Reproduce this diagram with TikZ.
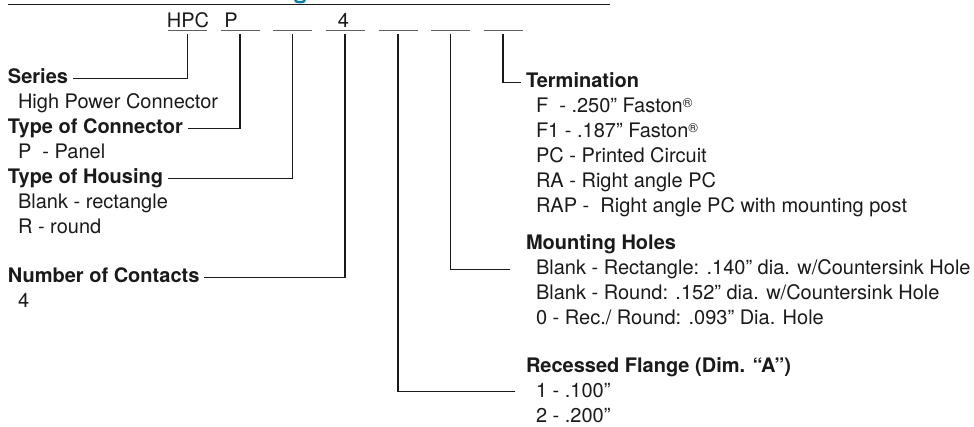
\documentclass[tikz,border=0pt]{standalone}
\usepackage{fontspec}
\setmainfont{TeX Gyre Heros}
\usetikzlibrary{calc}
\definecolor{ink}{HTML}{1A1A1A}
\definecolor{titleteal}{HTML}{0E7FA6}
\newcommand{\regm}{{\fontsize{13}{13}\selectfont\raisebox{5pt}{®}}}
\begin{document}
\begin{tikzpicture}[x=1pt,y=-1pt,
  every node/.style={inner sep=0pt, outer sep=0pt, text=ink, anchor=base west,
    text height=14.5pt, text depth=4pt, font=\fontsize{20}{24}\selectfont},
  head/.style={font=\fontsize{20}{24}\selectfont\bfseries},
  conn/.style={draw=ink, line width=1.1pt},
  uline/.style={draw=ink!70, line width=0.9pt},
  slot/.style={minimum width=39pt, minimum height=0pt, anchor=center, text height=0pt, text depth=0pt},
  code/.style={anchor=base}
]
\useasboundingbox (0,0) rectangle (974,427);
% top rule and title fragment
\draw[ink, line width=1.6pt] (8,4.5) -- (610,4.5);
\draw[titleteal, line width=2.4pt] (295,0) .. controls (295,3) and (305,3) .. (305,0);
% code row
\node[code] (hpc) at (188,28) {HPC};
\node[code] (pp) at (231,28) {P};
\node[code] (four) at (343.5,28) {4};
\foreach \i/\x in {1/187.5,2/240,3/292.5,4/345,5/398,6/450.5,7/503}{
  \node[slot] (s\i) at (\x,30.5) {};
  \draw[uline] (s\i.west) -- (s\i.east);
}
% left column
\node[head] (ser) at (8,83.5) {Series};
\node (serA) at (18,108.5) {High Power Connector};
\node[head] (toc) at (8,133.5) {Type of Connector};
\node (tocA) at (18,158.5) {P\ \ - Panel};
\node[head] (toh) at (8,183.5) {Type of Housing};
\node (tohA) at (18,208.5) {Blank - rectangle};
\node (tohB) at (18,233.5) {R - round};
\node[head] (noc) at (8,282.5) {Number of Contacts};
\node (nocA) at (18,307.5) {4};
% right column
\node[head] (term) at (526,87.5) {Termination};
\node (termA) at (536,112.5) {F\ \ - .250" Faston\regm};
\node (termB) at (536,137.5) {F1 - .187" Faston\regm};
\node (termC) at (536,162.5) {PC - Printed Circuit};
\node (termD) at (536,187.5) {RA - Right angle PC};
\node (termE) at (536,212.5) {RAP -\ \ Right angle PC with mounting post};
\node[head] (mh) at (526,250) {Mounting Holes};
\node (mhA) at (536,275) {Blank - Rectangle: .140” dia. w/Countersink Hole};
\node (mhB) at (536,300) {Blank - Round: .152” dia. w/Countersink Hole};
\node (mhC) at (536,325) {0 - Rec./ Round: .093” Dia. Hole};
\node[head] (rf) at (526,372) {Recessed Flange (Dim. “A”)};
\node (rfA) at (536,397) {1 - .100”};
\node (rfB) at (536,422) {2 - .200”};
% connectors
\draw[conn] ([xshift=5pt]ser.east) -| ([yshift=-3.5pt]s1.south);
\draw[conn] ([xshift=5pt]toc.east) -| ([yshift=-3.5pt]s2.south);
\draw[conn] ([xshift=5pt]toh.east) -| ([yshift=-3.5pt]s3.south);
\draw[conn] ([xshift=5pt]noc.east) -| ([yshift=-3.5pt]s4.south);
\draw[conn] ([yshift=-3.5pt]s7.south) |- ([xshift=-5pt]term.west);
\draw[conn] ([yshift=-3.5pt]s6.south) |- ([xshift=-26pt]mhA.west);
\draw[conn] ([yshift=-3.5pt]s5.south) |- ([xshift=-21pt]rfA.west);
\end{tikzpicture}
\end{document}
